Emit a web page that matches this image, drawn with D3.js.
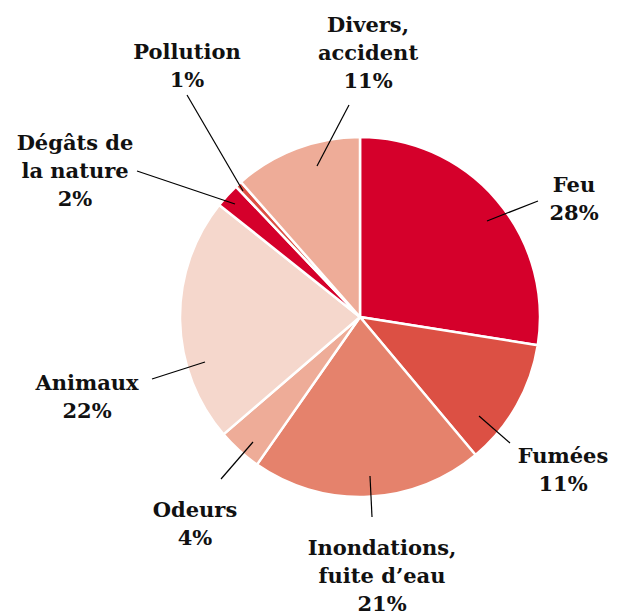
<!DOCTYPE html>
<html><head><meta charset="utf-8">
<script src="https://cdn.jsdelivr.net/npm/d3@7"></script>
<style>body{margin:0;background:#fff}svg{display:block}</style>
</head><body>
<script>
const categories = ["Feu","Fumées","Inondations, fuite d’eau","Odeurs","Animaux","Dégâts de la nature","Pollution","Divers, accident"];
const values = [27.5, 11.4, 20.8, 4.0, 22.0, 2.2, 0.6, 11.5];
const pctLabels = ["28%","11%","21%","4%","22%","2%","1%","11%"];
const labelLines = [["Feu"],["Fumées"],["Inondations,","fuite d’eau"],["Odeurs"],["Animaux"],["Dégâts de","la nature"],["Pollution"],["Divers,","accident"]];
const colors = ["#d5002b","#dc5044","#e5826c","#eeac98","#f5d7cc","#d5002b","#dc5044","#eeac98"];

// label layout (annotation placement, relative to chart centre)
const layout = [
  {l:[127,-96,178,-116], t:[214,-125]},
  {l:[119,99,150,126], t:[203,146]},
  {l:[10,159,12,200], t:[22,238]},
  {l:[-107,125,-139,162], t:[-165,200]},
  {l:[-155,45,-208,62], t:[-273,73]},
  {l:[-125,-113,-223,-146], t:[-285,-167]},
  {l:[-117,-126,-173,-222], t:[-173,-258]},
  {l:[-43,-151,-11,-212], t:[8,-285]}
];

const W=618,H=612,cx=360,cy=317,R=180;
const svg=d3.select("body").append("svg").attr("width",W).attr("height",H);
const g=svg.append("g").attr("transform",`translate(${cx},${cy})`);
const pie=d3.pie().sort(null).value(d=>d);
const arc=d3.arc().innerRadius(0).outerRadius(R);
const arcs=pie(values);
g.selectAll("path.slice").data(arcs).join("path").attr("class","slice")
  .attr("d",arc).attr("fill",(d,i)=>colors[i]).attr("stroke","#fff").attr("stroke-width",2.5).attr("stroke-linejoin","round");

g.selectAll("line.lead").data(layout).join("line").attr("class","lead")
  .attr("x1",d=>d.l[0]).attr("y1",d=>d.l[1]).attr("x2",d=>d.l[2]).attr("y2",d=>d.l[3])
  .attr("stroke","#000").attr("stroke-width",1.2);

const lh=28;
categories.forEach((c,i)=>{
  const lines=labelLines[i].concat([pctLabels[i]]);
  const t=g.append("text").attr("x",layout[i].t[0]).attr("y",layout[i].t[1])
    .attr("text-anchor","middle").attr("font-family","'DejaVu Serif', serif").attr("font-weight","bold")
    .attr("font-size",21).attr("fill","#111");
  lines.forEach((s,j)=>t.append("tspan").attr("x",layout[i].t[0]).attr("dy",j?lh:0).text(s));
});
</script>
</body></html>
